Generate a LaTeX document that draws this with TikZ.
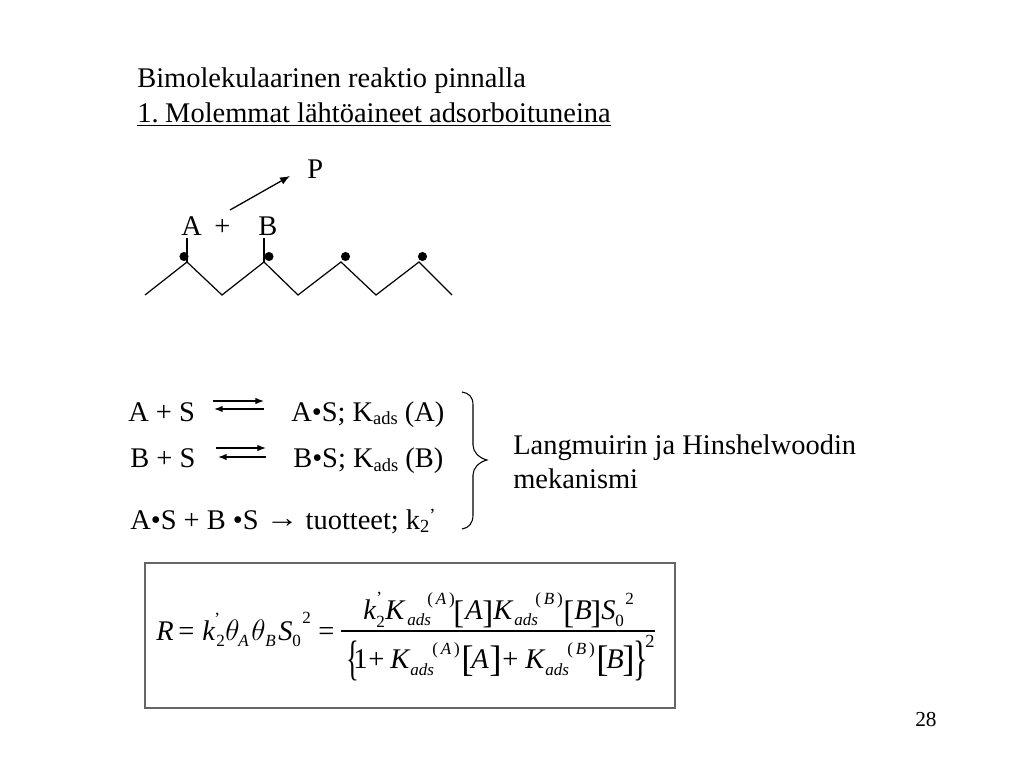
\documentclass[tikz,border=0pt]{standalone}
\usepackage{fontspec}
\setmainfont{Liberation Serif}
\usetikzlibrary{arrows.meta}
\newcommand{\fsize}[1]{\fontsize{#1}{#1}\selectfont}
\newcommand{\adsub}[1]{\raisebox{-2.5pt}{\fsize{13}#1}}
\tikzset{
  txt/.style={anchor=base west,inner sep=0pt,font=\fsize{20}},
  eq/.style={anchor=base west,inner sep=0pt,font=\fsize{20}\itshape},
  eqrm/.style={anchor=base west,inner sep=0pt,font=\fsize{20}},
  eqsub/.style={anchor=base west,inner sep=0pt,font=\fsize{12}\itshape},
  eqnum/.style={anchor=base west,inner sep=0pt,font=\fsize{12}},
  fence/.style={anchor=base west,inner sep=0pt,font=\fsize{23}},
  fencebig/.style={anchor=base west,inner sep=0pt,font=\fsize{26}},
  curly/.style={anchor=base west,inner sep=0pt,font=\fsize{34}},
  site/.style={circle,fill,inner sep=0pt,minimum size=6.4pt},
  surf/.style={line width=.85pt},
  arw/.style={line width=.9pt,-{Latex[length=7pt,width=5.5pt]}},
  eqarw/.style={line width=.9pt,-{Latex[length=6pt,width=4.5pt]}}
}
\begin{document}
\begin{tikzpicture}[x=0.703125pt,y=-0.703125pt]
\useasboundingbox (0,0) rectangle (1024,768);
% otsikko
\node[txt](title)at(137,88){Bimolekulaarinen reaktio pinnalla};
\node[txt](subtitle)at(137,123){\underline{1.\hspace{-2pt} Molemmat lähtöaineet adsorboituneina}};
% pinta
\node[txt](P)at(307,179){P};
\node[txt](A)at(181,236){A};
\node[txt](plus)at(214,236){+};
\node[txt](B)at(258,236){B};
\coordinate (pstart) at (230,210);
\coordinate (pend) at (290,176);
\draw[arw] (pstart) -- (pend);
\draw[surf] (145,295) -- (187,262) -- (222,295) -- (264,262) -- (298,295) -- (341,262) -- (376,295) -- (419,262) -- (452,295);
\draw[surf] (187,262) -- (187,238);
\draw[surf] (264,262) -- (264,238);
\node[site](s1)at(184,256.5){};
\node[site](s2)at(269,256.5){};
\node[site](s3)at(345.5,256.5){};
\node[site](s4)at(422.5,256.5){};
% reaktiot
\node[txt](r1)at(128,421){A + S};
\node[txt](r1b)at(291,421){A•S; K\adsub{ads} (A)};
\node[txt](r2)at(130,467.5){B + S};
\node[txt](r2b)at(293,467.5){B•S; K\adsub{ads} (B)};
\node[txt](r3)at(130,529){A•S + B •S \raisebox{1pt}{\scalebox{1.15}[1]{→}} tuotteet; k\adsub{2}\raisebox{5pt}{\fsize{13}'}};
\coordinate (e1a) at (213,401); \coordinate (e1b) at (264,401);
\coordinate (e1c) at (264,409); \coordinate (e1d) at (214,409);
\coordinate (e2a) at (216,448); \coordinate (e2b) at (266,448);
\coordinate (e2c) at (266,457); \coordinate (e2d) at (218,457);
\draw[eqarw] (e1a) -- (e1b);
\draw[eqarw] (e1c) -- (e1d);
\draw[eqarw] (e2a) -- (e2b);
\draw[eqarw] (e2c) -- (e2d);
\draw[line width=.75pt] (462,392) .. controls (469,393) and (473,397) .. (473,405) -- (473,445) .. controls (473,452) and (479,458) .. (487,460) .. controls (479,462) and (473,468) .. (473,475) -- (473,515) .. controls (473,523) and (469,528) .. (462,529);
\node[txt](mech1)at(513,454){Langmuirin ja Hinshelwoodin};
\node[txt](mech2)at(513,488){mekanismi};
% nopeusyhtalo
\draw[line width=.9pt,draw=black!60] (145,563) rectangle (675,708);
\node[eq](R)at(156,640){R};
\node[eqrm](eq1)at(178,640){=};
\node[eq](k)at(202,640){k};
\node[eqnum](kp)at(214,624){'};
\node[eqnum](k2)at(216,646){2};
\node[eq](th1)at(225,640){$\theta$};
\node[eqsub](thA)at(238,646){A};
\node[eq](th2)at(251,640){$\theta$};
\node[eqsub](thB)at(265,646){B};
\node[eq](S)at(278,640){S};
\node[eqnum](S0)at(292,646){0};
\node[eqnum](S2)at(302,623){2};
\node[eqrm](eq2)at(318,640){=};
\coordinate (barl) at (341,631); \coordinate (barr) at (655,631);
\draw[line width=.75pt] (barl) -- (barr);
% osoittaja
\node[eq](nk)at(363,619){k};
\node[eqnum](nkp)at(376,603){'};
\node[eqnum](nk2)at(376,627){2};
\node[eq](nK1)at(385,619){K};
\node[eqsub](nads1)at(407,625){ads};
\node[eqnum](nsA)at(427,604){(\,\textit{A}\,)};
\node[fence](nbA)at(453,623){[};
\node[eq](nA)at(465,619){A};
\node[fence](nbA2)at(482,623){]};
\node[eq](nK2)at(493,619){K};
\node[eqsub](nads2)at(514,625){ads};
\node[eqnum](nsB)at(535,604){(\,\textit{B}\,)};
\node[fence](nbB)at(563,623){[};
\node[eq](nB)at(574,619){B};
\node[fence](nbB2)at(590,623){]};
\node[eq](nS)at(601,619){S};
\node[eqnum](nS0)at(615,626){0};
\node[eqnum](nS2)at(625,604){2};
% nimittaja
\node[curly](db1)at(346,674.5){\scalebox{.55}[1]{\{}};
\node[eqrm](d1)at(353,668){1};
\node[eqrm](dp1)at(368,668){+};
\node[eq](dK1)at(390,668){K};
\node[eqsub](dads1)at(410,675){ads};
\node[eqnum](dsA)at(432,654){(\,\textit{A}\,)};
\node[fencebig](dbA)at(461,671){[};
\node[eq](dA)at(471,668){A};
\node[fencebig](dbA2)at(489,671){]};
\node[eqrm](dp2)at(502,668){+};
\node[eq](dK2)at(525,668){K};
\node[eqsub](dads2)at(545,675){ads};
\node[eqnum](dsB)at(567,654){(\,\textit{B}\,)};
\node[fencebig](dbB)at(596,671){[};
\node[eq](dB)at(606,668){B};
\node[fencebig](dbB2)at(622,671){]};
\node[curly](db2)at(633,674.5){\scalebox{.62}[1]{\}}};
\node[eqnum,font=\fsize{13}](d2)at(645,647){2};
% sivunumero
\node[txt,font=\fsize{15}](page)at(915,726){28};
\end{tikzpicture}
\end{document}
